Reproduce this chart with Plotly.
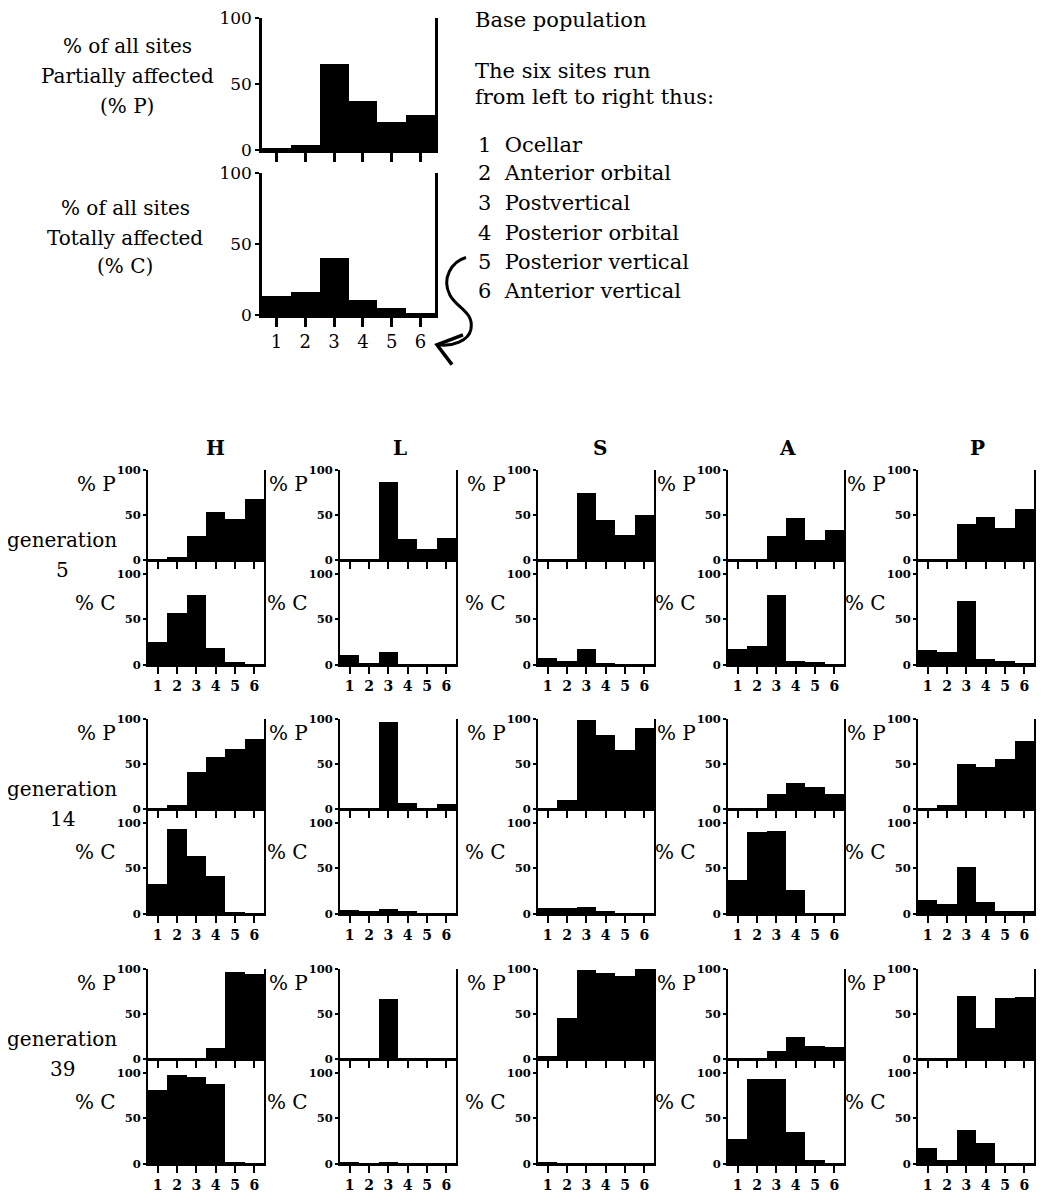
import plotly.graph_objects as go

PAGE_W, PAGE_H = 1053, 1201
OFF = 8
W, H = PAGE_W - 2 * OFF, PAGE_H - 2 * OFF
# measured vertical mapping of the photographed page (page y -> picture y)
S_Y, B_Y = 0.9843, 8.7

# ---------------- data ----------------
sites = [1, 2, 3, 4, 5, 6]
site_names = ["Ocellar", "Anterior orbital", "Postvertical",
              "Posterior orbital", "Posterior vertical", "Anterior vertical"]
lines = ["H", "L", "S", "A", "P"]
generations = [5, 14, 39]
y_ticks = [0, 50, 100]

base_P = [1.5, 3.5, 65, 37, 21, 26.5]
base_C = [13.5, 16, 40, 10.5, 4.5, 1.5]

# generation 5
g5_H_P = [0.5, 4, 27, 54, 46, 68]
g5_H_C = [25, 57, 77, 18.5, 3, 1]
g5_L_P = [1.5, 0.5, 87, 24, 13, 25]
g5_L_C = [11, 2.5, 14, 1, 0.5, 0.5]
g5_S_P = [0.5, 0.5, 74, 45, 28.5, 50]
g5_S_C = [8, 4.5, 17.5, 2, 0.5, 0.5]
g5_A_P = [0.5, 0.5, 27, 47, 23, 33]
g5_A_C = [18, 20.5, 77, 4.5, 3, 1.5]
g5_P_P = [1, 1, 40, 47.5, 36, 57]
g5_P_C = [16.5, 14.5, 70.5, 7, 4, 2]

# generation 14
g14_H_P = [0.5, 4.5, 41.5, 58, 66.5, 78]
g14_H_C = [33, 93, 63.5, 41.5, 2.5, 0.7]
g14_L_P = [1, 0.5, 97, 7.5, 1.5, 5.5]
g14_L_C = [4, 3.5, 6, 3, 0.5, 0.5]
g14_S_P = [0.5, 10, 99, 82, 66, 90]
g14_S_C = [7, 6.3, 7.7, 3, 0.5, 0.5]
g14_A_P = [1, 1, 17, 29, 25, 17]
g14_A_C = [37.5, 89.5, 90.5, 26, 1, 1]
g14_P_P = [1, 5, 50, 46.5, 56, 76]
g14_P_C = [16, 11, 52, 13, 3, 3]

# generation 39
g39_H_P = [0.5, 1, 1.5, 13, 97, 94]
g39_H_C = [81, 98, 95.5, 88, 2, 1]
g39_L_P = [0.5, 0.5, 67, 1, 0.5, 0.5]
g39_L_C = [2, 1, 2, 0.5, 0.5, 0.5]
g39_S_P = [4, 46, 99, 96, 92, 100]
g39_S_C = [2, 1.5, 1, 0.5, 0.5, 0.5]
g39_A_P = [1, 1, 9, 25, 15, 14]
g39_A_C = [28, 93, 93, 35, 4, 1]
g39_P_P = [0.5, 0.5, 70, 35, 68, 69]
g39_P_C = [18, 5, 37, 23.5, 0.5, 0.5]

grid_P = [[g5_H_P, g5_L_P, g5_S_P, g5_A_P, g5_P_P],
          [g14_H_P, g14_L_P, g14_S_P, g14_A_P, g14_P_P],
          [g39_H_P, g39_L_P, g39_S_P, g39_A_P, g39_P_P]]
grid_C = [[g5_H_C, g5_L_C, g5_S_C, g5_A_C, g5_P_C],
          [g14_H_C, g14_L_C, g14_S_C, g14_A_C, g14_P_C],
          [g39_H_C, g39_L_C, g39_S_C, g39_A_C, g39_P_C]]

# ---------------- layout geometry (target picture pixels) ----------------
SERIF = "DejaVu Serif"
col_left = [148, 340, 538, 728, 918]
col_w = 116
row_top = [472, 723, 975]
P_h = 91
C_h = 106
C_max = 115


def px(x):
    return (x - OFF) / W


def py(y):
    yp = (y - B_Y) / S_Y
    return 1 - (yp - OFF) / H


def dom(a, b):
    return [max(0.0, min(1.0, a)), max(0.0, min(1.0, b))]


fig = go.Figure()
layout = {}
annotations = []
n = [0]


def add_panel(values, xdom, ydom, yrange, show_xlabels, big=False):
    n[0] += 1
    i = n[0]
    xa = "xaxis" if i == 1 else f"xaxis{i}"
    ya = "yaxis" if i == 1 else f"yaxis{i}"
    xr = "x" if i == 1 else f"x{i}"
    yr = "y" if i == 1 else f"y{i}"
    fig.add_trace(go.Bar(x=sites, y=values, xaxis=xr, yaxis=yr, width=1,
                         marker=dict(color="black", line=dict(width=0)),
                         showlegend=False, hoverinfo="x+y"))
    lw = 2.5 if big else 2
    yfont = dict(family=SERIF, size=17, color="black") if big else \
        dict(family=SERIF, size=11.5, color="black", weight=700)
    xfont = dict(family=SERIF, size=18, color="black") if big else \
        dict(family=SERIF, size=14, color="black", weight=700)
    layout[xa] = dict(domain=dom(*xdom), anchor=yr, range=[0.5, 6.5],
                      tickvals=sites, ticktext=[str(s) for s in sites],
                      showticklabels=show_xlabels, ticks="outside",
                      ticklen=9 if big else 7, tickwidth=2.5 if big else 2,
                      tickcolor="black", showline=True, linecolor="black",
                      linewidth=lw, mirror=False, showgrid=False,
                      zeroline=False, tickfont=xfont, fixedrange=True)
    layout[ya] = dict(domain=dom(*ydom), anchor=xr, range=yrange,
                      tickvals=y_ticks, ticktext=[str(t) for t in y_ticks],
                      ticks="outside", ticklen=4 if big else 3,
                      tickwidth=2 if big else 1.5, tickcolor="black",
                      showline=True, linecolor="black", linewidth=lw,
                      mirror=True, showgrid=False, zeroline=False,
                      tickfont=yfont, fixedrange=True)


def text(s, x, y, size=20, xanchor="left", bold=False):
    f = dict(family=SERIF, size=size, color="black")
    if bold:
        f["weight"] = 700
    annotations.append(dict(text=s, x=px(x), y=py(y), xref="paper",
                            yref="paper", xanchor=xanchor, yanchor="middle",
                            showarrow=False, font=f))


# base population panels
add_panel(base_P, [px(262), px(435)], [py(150), py(17)], [0, 100], False, big=True)
add_panel(base_C, [px(262), px(435)], [py(316), py(173)], [0, 100], True, big=True)

# grid panels
for r, g in enumerate(generations):
    top = row_top[r]
    pb = top + P_h
    cb = pb + C_h
    for c, ln in enumerate(lines):
        xd = [px(col_left[c]), px(col_left[c] + col_w)]
        add_panel(grid_P[r][c], xd, [py(pb), py(top)], [0, 100], False)
        add_panel(grid_C[r][c], xd, [py(cb), py(pb)], [0, C_max], True)
        text("% P", col_left[c] - 30, top + 14, size=20, xanchor="right")
        text("% C", col_left[c] - 30, cb - 63, size=20, xanchor="right")
    text("generation", 62, pb - 20, size=20, xanchor="center")
    text(str(g), 62, pb + 10, size=20, xanchor="center")

# column headers
header_x = [215, 400, 600, 787, 977]
for c, ln in enumerate(lines):
    text(ln, header_x[c], 450, size=20, xanchor="center", bold=True)

# left labels of base population
text("% of all sites", 127, 45, xanchor="center")
text("Partially affected", 127, 75, xanchor="center")
text("(% P)", 127, 105, xanchor="center")
text("% of all sites", 125, 208, xanchor="center")
text("Totally affected", 125, 238, xanchor="center")
text("(% C)", 125, 267, xanchor="center")

# right-hand description
text("Base population", 473, 19, size=21)
text("The six sites run", 473, 70, size=21)
text("from left to right thus:", 473, 96, size=21)
list_y = [145, 173, 203, 233, 263, 292]
for s, name, yy in zip(sites, site_names, list_y):
    text(f"{s}\u00a0 {name}", 476, yy, size=21)


# curved arrow from the site list to the x-axis
def P(x, y):
    return f"{px(x):.5f},{py(y):.5f}"


arrow_path = (f"M {P(466, 258)} C {P(452, 262)} {P(441, 279)} {P(450, 296)} "
              f"C {P(457, 309)} {P(474, 313)} {P(471, 330)} "
              f"C {P(469, 342)} {P(452, 348)} {P(438, 346)}")
head_path = f"M {P(463, 336)} L {P(437, 346)} L {P(452, 366)}"
shapes = [
    dict(type="path", path=arrow_path, xref="paper", yref="paper",
         line=dict(color="black", width=3)),
    dict(type="path", path=head_path, xref="paper", yref="paper",
         line=dict(color="black", width=3.5)),
]

fig.update_layout(
    width=W, height=H, margin=dict(l=0, r=0, t=0, b=0),
    paper_bgcolor="white", plot_bgcolor="white", bargap=0,
    showlegend=False, annotations=annotations, shapes=shapes,
    font=dict(family=SERIF, color="black"),
    **layout,
)

fig.write_html("out.html", config={"displayModeBar": False})
